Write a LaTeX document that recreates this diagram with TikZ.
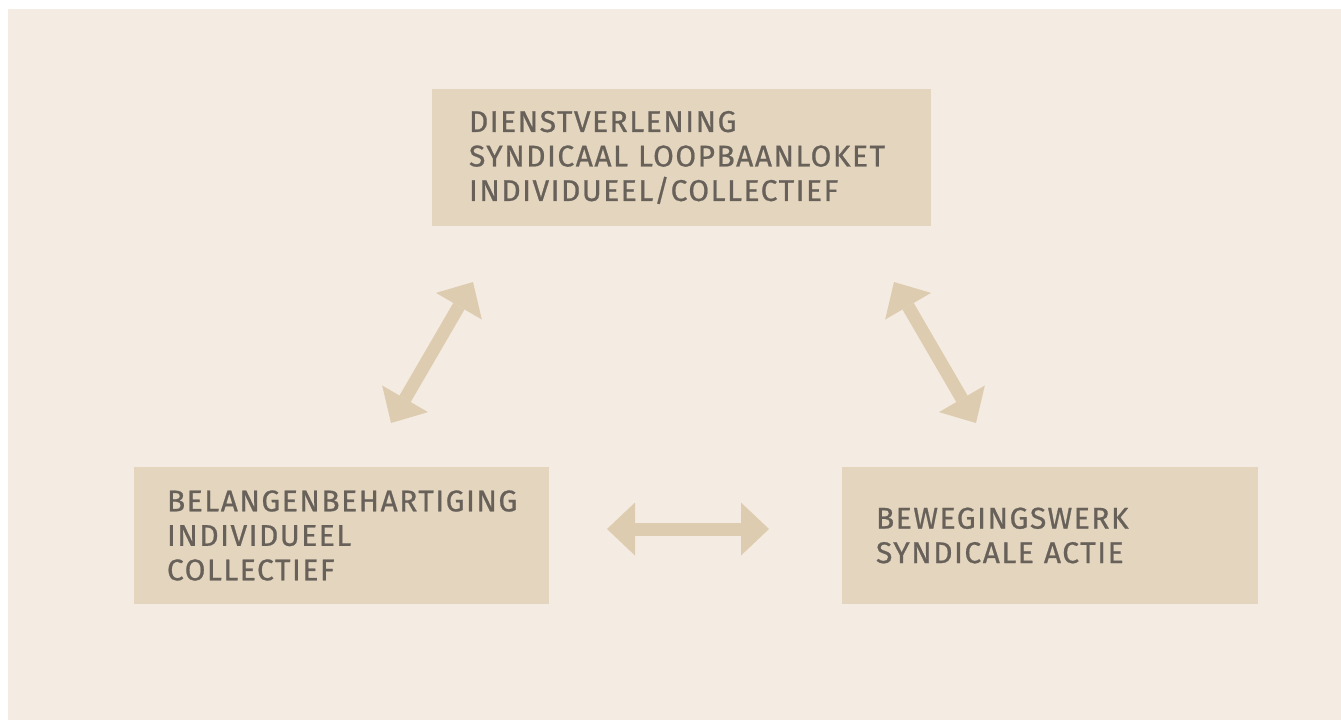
\documentclass[tikz,border=0pt]{standalone}
\usepackage{fontspec}
\setmainfont{Fira Sans}[LetterSpace=5,FakeBold=0.7]
\usetikzlibrary{arrows.meta}

\definecolor{bgbeige}{HTML}{F4ECE2}
\definecolor{boxbeige}{HTML}{E4D5BE}
\definecolor{arrowbeige}{HTML}{DDCCAF}
\definecolor{textgrey}{HTML}{67615A}

\newcommand*{\fattip}{Triangle[length=28pt,width=53pt,line width=0pt]}

\begin{document}
\begin{tikzpicture}
[
	x=1pt,
	y=-1pt,
	box/.style={fill=boxbeige,text=textgrey,align=left,inner ysep=0pt,minimum height=137pt,font=\fontsize{30}{34.5}\selectfont},
	fatarrow/.style={draw=arrowbeige,fill=arrowbeige,line width=13pt,{\fattip}-{\fattip}}
]

	% background
	\useasboundingbox (0,0) rectangle (1341,720);
	\fill[bgbeige] (8,9) rectangle (1341,720);

	% boxes
	\node[box,text width=424pt,inner xsep=37.5pt] (dienst) at (681,157.5)
	  {DIENSTVERLENING\\SYNDICAAL LOOPBAANLOKET\\INDIVIDUEEL/COLLECTIEF};
	\node[box,text width=349pt,inner xsep=33pt] (belang) at (341.5,535.5)
	  {BELANGENBEHARTIGING\\INDIVIDUEEL\\COLLECTIEF};
	\node[box,text width=348pt,inner xsep=34pt] (beweging) at (1050,535.5)
	  {BEWEGINGSWERK\\SYNDICALE ACTIE};

	% arrow ends
	\coordinate (belangtop) at (391,423);
	\coordinate (dienstleft) at (473,282);
	\coordinate (dienstright) at (894,282);
	\coordinate (bewegingtop) at (976,423);
	\coordinate (belangright) at (607,529);
	\coordinate (bewegingleft) at (769,529);

	% arrows
	\draw[fatarrow] (belangtop) -- (dienstleft);
	\draw[fatarrow] (dienstright) -- (bewegingtop);
	\draw[fatarrow] (belangright) -- (bewegingleft);

\end{tikzpicture}
\end{document}
